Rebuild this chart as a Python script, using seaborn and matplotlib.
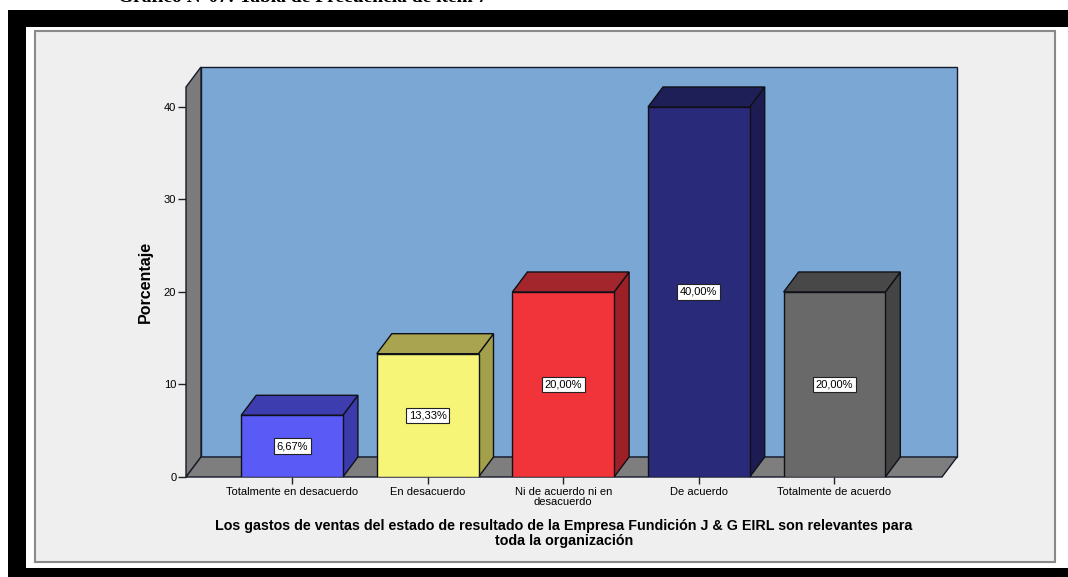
import matplotlib
matplotlib.use("Agg")
import matplotlib.pyplot as plt
from matplotlib.patches import Polygon, Rectangle
import seaborn as sns

# --- data ---
categories = [
    "Totalmente en desacuerdo",
    "En desacuerdo",
    "Ni de acuerdo ni en\ndesacuerdo",
    "De acuerdo",
    "Totalmente de acuerdo",
]
percent = [6.67, 13.33, 20.00, 40.00, 20.00]
y_ticks = [0, 10, 20, 30, 40]

front_colors = ["#5a5af6", "#f6f577", "#f1333a", "#2a2a7a", "#696969"]
side_colors = ["#3b3bab", "#a3a04c", "#9c2026", "#1c1c52", "#444444"]
top_colors = ["#3d3db0", "#a8a44f", "#a2262b", "#1f1f57", "#484848"]

x_title = ("Los gastos de ventas del estado de resultado de la Empresa Fundición J & G EIRL son relevantes para\n"
           "toda la organización")
y_title = "Porcentaje"
fig_title = "Gráfico N°07: Tabla de Frecuencia de ítem 7"

sns.set_style("white")
plt.rcParams["font.family"] = ["Liberation Sans", "DejaVu Sans"]
plt.rcParams["text.color"] = "black"
plt.rcParams["axes.labelcolor"] = "black"
plt.rcParams["xtick.color"] = "black"
plt.rcParams["ytick.color"] = "black"

W, H = 1068, 577
fig = plt.figure(figsize=(W / 100, H / 100), dpi=100)
fig.patch.set_facecolor("white")


def px_rect(x0, y0, x1, y1, **kw):
    # rectangle given in pixel coords (top-left origin) -> figure fraction
    return Rectangle((x0 / W, 1 - y1 / H), (x1 - x0) / W, (y1 - y0) / H,
                     transform=fig.transFigure, **kw)


# page frame around the chart
fig.add_artist(px_rect(8, 10, W, H, fc="black", ec="none", zorder=0))
fig.add_artist(px_rect(26, 27, W, 568, fc="white", ec="none", zorder=0))
fig.add_artist(px_rect(35, 31, 1055, 562, fc="#efefef", ec="#8a8a8a", lw=1.5, zorder=0))

# heading above the frame, cut off by the page edge as in the scan
fig.text(118 / W, 1 - 2.5 / H, fig_title, ha="left", va="baseline", fontsize=14,
         fontweight="bold", family=["Liberation Serif", "DejaVu Serif"])

# axes = front plane of the 3D box
ax = fig.add_axes([186 / W, 1 - 477 / H, (942 - 186) / W, (477 - 87) / H])
ax.set_facecolor("none")

sns.barplot(x=categories, y=percent, hue=categories, palette=front_colors,
            legend=False, width=0.75, saturation=1, edgecolor="#101018",
            linewidth=1.0, ax=ax, zorder=4)
bars = list(ax.patches)

x0, x1 = -0.782, 4.793
y0, y1 = 0, 42.16
ax.set_xlim(x0, x1)
ax.set_ylim(y0, y1)

# depth offset (15 px right, 20 px up) in data units
ox = 15 * (x1 - x0) / ax.bbox.width
oy = 20 * (y1 - y0) / ax.bbox.height
edge = "#151a28"

# back wall, left wall, floor
ax.add_patch(Rectangle((x0 + ox, y0 + oy), x1 - x0, y1 - y0, fc="#7ba7d5",
                       ec=edge, lw=1.0, zorder=0.5, clip_on=False))
ax.add_patch(Polygon([(x0, y0), (x0, y1), (x0 + ox, y1 + oy), (x0 + ox, y0 + oy)],
                     closed=True, fc="#7b7b7b", ec=edge, lw=1.0, zorder=1, clip_on=False))
ax.add_patch(Polygon([(x0, y0), (x1, y0), (x1 + ox, y0 + oy), (x0 + ox, y0 + oy)],
                     closed=True, fc="#7e7e7e", ec=edge, lw=1.0, zorder=1, clip_on=False))

# 3D sides and tops of the bars, built from the seaborn bars
for p, sc, tc, v in zip(bars, side_colors, top_colors, percent):
    bx, bw, bh = p.get_x(), p.get_width(), p.get_height()
    ax.add_patch(Polygon([(bx + bw, 0), (bx + bw, bh), (bx + bw + ox, bh + oy), (bx + bw + ox, oy)],
                         closed=True, fc=sc, ec="#101018", lw=1.0, zorder=3, clip_on=False))
    ax.add_patch(Polygon([(bx, bh), (bx + bw, bh), (bx + bw + ox, bh + oy), (bx + ox, bh + oy)],
                         closed=True, fc=tc, ec="#101018", lw=1.0, zorder=3, clip_on=False))
    label = f"{v:.2f}".replace(".", ",") + "%"
    ax.text(bx + bw / 2, bh / 2, label, ha="center", va="center", fontsize=8,
            color="black", zorder=6,
            bbox=dict(boxstyle="square,pad=0.25", fc="white", ec="#222222", lw=0.8))

for s in ax.spines.values():
    s.set_visible(False)

ax.set_yticks(y_ticks)
ax.tick_params(axis="y", length=6, width=1, pad=1, labelsize=8, color="#222222",
               left=True, direction="out")
ax.tick_params(axis="x", length=5, width=1, pad=2, labelsize=8, color="#222222",
               bottom=True, direction="out")
for t in ax.get_xticklabels():
    t.set_linespacing(1.0)

ax.set_xlabel(x_title, fontsize=10.3, fontweight="bold", labelpad=9, linespacing=1.05)
ax.set_ylabel(y_title, fontsize=11.5, fontweight="bold", labelpad=8)

fig.savefig("out.png", dpi=100)
